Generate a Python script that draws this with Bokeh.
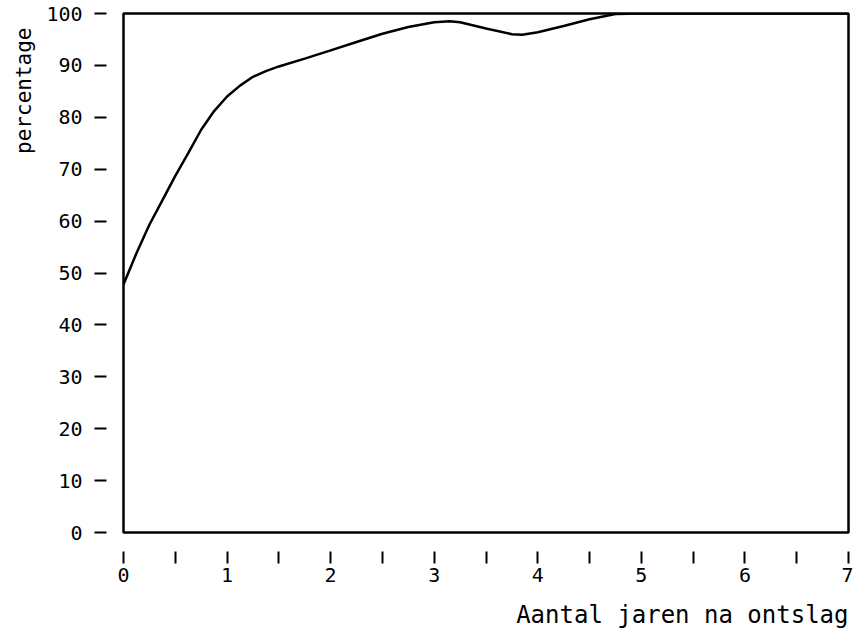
from bokeh.plotting import figure
from bokeh.models import Range1d, FixedTicker, LinearAxis, Title
from bokeh.embed import file_html
from bokeh.resources import INLINE

# data
years = [0, 0.125, 0.25, 0.375, 0.5, 0.625, 0.75, 0.875, 1.0, 1.125, 1.25, 1.375, 1.5,
         1.75, 2.0, 2.25, 2.5, 2.75, 3.0, 3.15, 3.25, 3.5, 3.75, 3.85, 4.0, 4.25, 4.5,
         4.75, 5.0, 5.5, 6.0, 6.5, 7.0]
pct = [47.8, 53.8, 59.3, 64.0, 68.7, 73.1, 77.6, 81.2, 84.0, 86.1, 87.8, 88.9, 89.8,
       91.3, 92.9, 94.5, 96.1, 97.4, 98.3, 98.5, 98.3, 97.1, 96.0, 95.9, 96.4, 97.6, 98.9,
       99.9, 100, 100, 100, 100, 100]

x_ticks = [0, 1, 2, 3, 4, 5, 6, 7]
x_minor = [0.5, 1.5, 2.5, 3.5, 4.5, 5.5, 6.5]
y_ticks = [0, 10, 20, 30, 40, 50, 60, 70, 80, 90, 100]
x_title = "Aantal jaren na ontslag"
y_title = "percentage"

FONT = "DejaVu Sans Mono"

p = figure(width=853, height=643, output_backend="svg", toolbar_location=None,
           x_range=Range1d(0, 7), y_range=Range1d(0, 100),
           x_axis_location=None, y_axis_location=None,
           min_border_left=123, min_border_right=5, min_border_top=13, min_border_bottom=111)
p.background_fill_color = "white"
p.border_fill_color = "white"
p.outline_line_color = "black"
p.outline_line_width = 2.5
p.xgrid.visible = False
p.ygrid.visible = False

xa = LinearAxis(ticker=FixedTicker(ticks=x_ticks, minor_ticks=x_minor))
xa.axis_line_color = None
xa.major_tick_in = -19
xa.major_tick_out = 31
xa.minor_tick_in = -19
xa.minor_tick_out = 31
xa.major_tick_line_width = 2
xa.minor_tick_line_width = 2
xa.major_tick_line_color = "black"
xa.minor_tick_line_color = "black"
xa.major_label_standoff = 4
xa.major_label_text_font = FONT
xa.major_label_text_font_size = "20px"
xa.major_label_text_color = "black"
p.add_layout(xa, "below")

ya = LinearAxis(ticker=FixedTicker(ticks=y_ticks, minor_ticks=[]))
ya.axis_line_color = None
ya.major_tick_in = -17
ya.major_tick_out = 29
ya.minor_tick_in = 0
ya.minor_tick_out = 0
ya.major_tick_line_width = 2
ya.major_tick_line_color = "black"
ya.major_label_standoff = 12
ya.major_label_text_font = FONT
ya.major_label_text_font_size = "20px"
ya.major_label_text_color = "black"
p.add_layout(ya, "left")

p.line(years, pct, line_color="black", line_width=2.5)

p.add_layout(Title(text=y_title, align="right", text_font=FONT, text_font_size="21px",
                   text_font_style="normal", text_color="black", standoff=16, offset=14), "left")
p.add_layout(Title(text=x_title, align="right", text_font=FONT, text_font_size="24px",
                   text_font_style="normal", text_color="black", standoff=28), "below")

open("out.html", "w").write(file_html(p, INLINE))
